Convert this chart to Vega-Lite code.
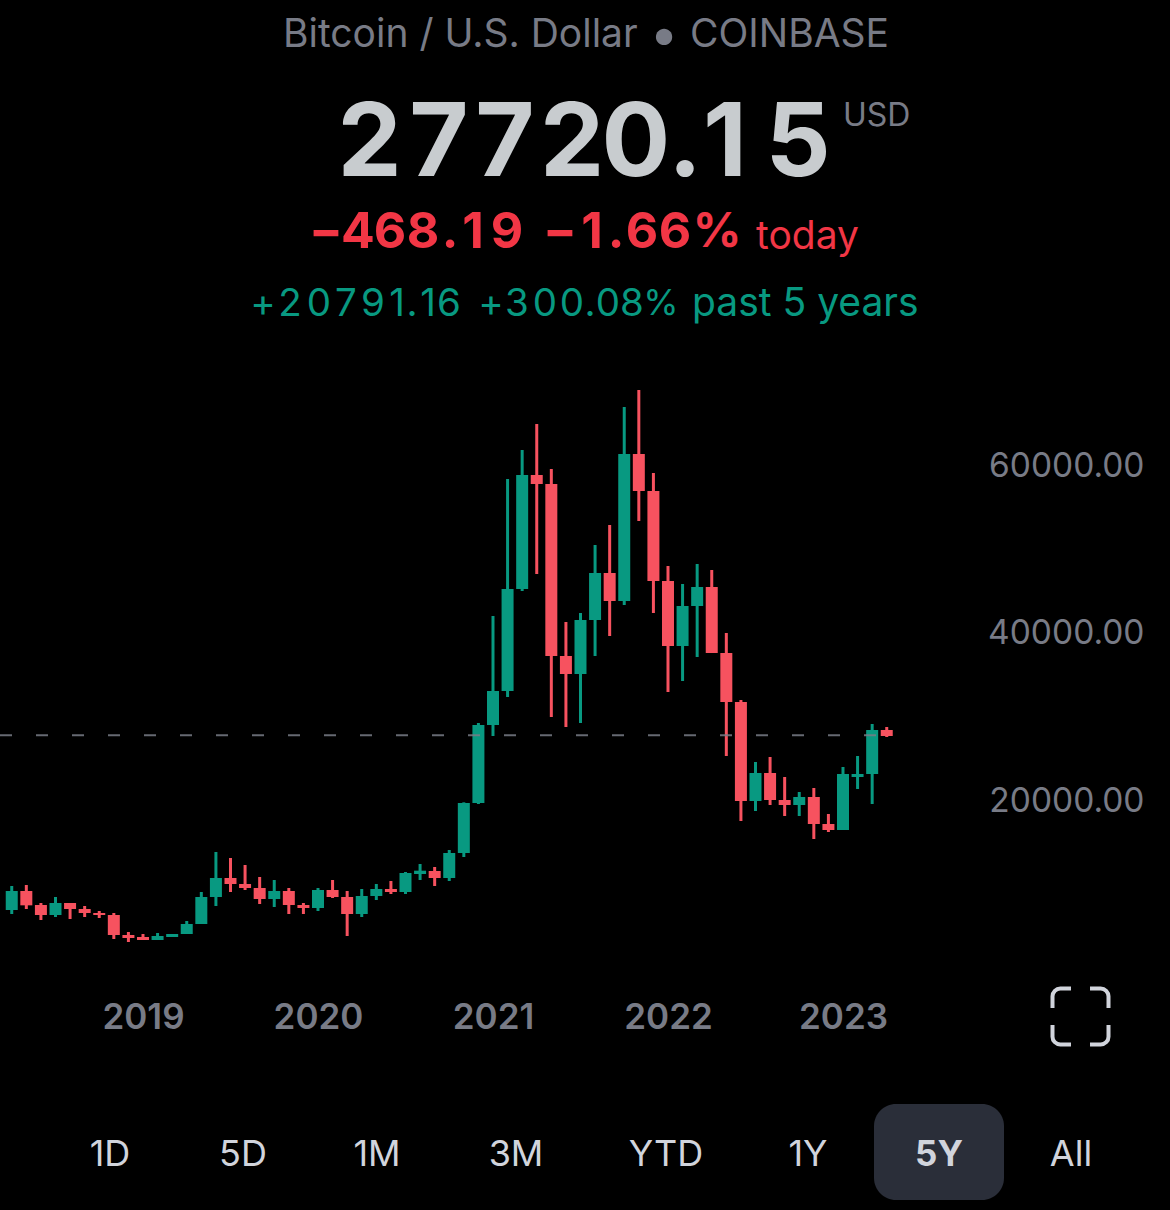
{"$schema":"https://vega.github.io/schema/vega-lite/v6.json","width":1170,"height":1210,"padding":0,"autosize":{"type":"none"},"background":"#000000","config":{"view":{"stroke":null},"text":{"font":"Inter"}},
"datasets":{"candles":[
{"year":2018.25,"open":6746,"close":9015,"high":9612,"low":6268,"dir":"up"},
{"year":2018.3333,"open":9015,"close":7303,"high":9731,"low":6865,"dir":"down"},
{"year":2018.4167,"open":7343,"close":6149,"high":7582,"low":5552,"dir":"down"},
{"year":2018.5,"open":6149,"close":7582,"high":8298,"low":5910,"dir":"up"},
{"year":2018.5833,"open":7582,"close":6865,"high":7582,"low":5671,"dir":"down"},
{"year":2018.6667,"open":6865,"close":6388,"high":7224,"low":5910,"dir":"down"},
{"year":2018.75,"open":6388,"close":6149,"high":6627,"low":5791,"dir":"down"},
{"year":2018.8333,"open":6149,"close":3761,"high":6388,"low":3283,"dir":"down"},
{"year":2018.9167,"open":3761,"close":3403,"high":4119,"low":2925,"dir":"down"},
{"year":2019,"open":3522,"close":3164,"high":3880,"low":3164,"dir":"down"},
{"year":2019.0833,"open":3164,"close":3642,"high":3999,"low":3164,"dir":"up"},
{"year":2019.1667,"open":3522,"close":3880,"high":3880,"low":3522,"dir":"up"},
{"year":2019.25,"open":3880,"close":5074,"high":5433,"low":3880,"dir":"up"},
{"year":2019.3333,"open":5074,"close":8298,"high":8895,"low":5074,"dir":"up"},
{"year":2019.4167,"open":8298,"close":10567,"high":13671,"low":7224,"dir":"up"},
{"year":2019.5,"open":10567,"close":9850,"high":12955,"low":8895,"dir":"down"},
{"year":2019.5833,"open":9850,"close":9373,"high":12119,"low":9134,"dir":"down"},
{"year":2019.6667,"open":9373,"close":8059,"high":10686,"low":7462,"dir":"down"},
{"year":2019.75,"open":8059,"close":9015,"high":10328,"low":7104,"dir":"up"},
{"year":2019.8333,"open":9015,"close":7343,"high":9373,"low":6268,"dir":"down"},
{"year":2019.9167,"open":7343,"close":6985,"high":7582,"low":6268,"dir":"down"},
{"year":2020,"open":6985,"close":9134,"high":9373,"low":6627,"dir":"up"},
{"year":2020.0833,"open":9134,"close":8298,"high":10328,"low":8179,"dir":"down"},
{"year":2020.1667,"open":8298,"close":6268,"high":9015,"low":3642,"dir":"down"},
{"year":2020.25,"open":6268,"close":8418,"high":9253,"low":5910,"dir":"up"},
{"year":2020.3333,"open":8418,"close":9253,"high":9850,"low":7940,"dir":"up"},
{"year":2020.4167,"open":9253,"close":8895,"high":10208,"low":8656,"dir":"down"},
{"year":2020.5,"open":8895,"close":11164,"high":11283,"low":8656,"dir":"up"},
{"year":2020.5833,"open":11044,"close":11442,"high":12238,"low":10328,"dir":"up"},
{"year":2020.6667,"open":11403,"close":10567,"high":11880,"low":9612,"dir":"down"},
{"year":2020.75,"open":10567,"close":13552,"high":13910,"low":10208,"dir":"up"},
{"year":2020.8333,"open":13552,"close":19522,"high":19600,"low":13074,"dir":"up"},
{"year":2020.9167,"open":19522,"close":28835,"high":29074,"low":19400,"dir":"up"},
{"year":2021,"open":28835,"close":32895,"high":41852,"low":27522,"dir":"up"},
{"year":2021.0833,"open":32895,"close":45074,"high":58207,"low":32179,"dir":"up"},
{"year":2021.1667,"open":45074,"close":58685,"high":61670,"low":44835,"dir":"up"},
{"year":2021.25,"open":58685,"close":57611,"high":64773,"low":46865,"dir":"down"},
{"year":2021.3333,"open":57611,"close":37074,"high":59400,"low":29790,"dir":"down"},
{"year":2021.4167,"open":37074,"close":34925,"high":41135,"low":28596,"dir":"down"},
{"year":2021.5,"open":34925,"close":41373,"high":42208,"low":29074,"dir":"up"},
{"year":2021.5833,"open":41373,"close":46985,"high":50327,"low":37074,"dir":"up"},
{"year":2021.6667,"open":46985,"close":43641,"high":52716,"low":39462,"dir":"down"},
{"year":2021.75,"open":43641,"close":61193,"high":66804,"low":43163,"dir":"up"},
{"year":2021.8333,"open":61193,"close":56775,"high":68834,"low":53193,"dir":"down"},
{"year":2021.9167,"open":56775,"close":46029,"high":58924,"low":42208,"dir":"down"},
{"year":2022,"open":46029,"close":38268,"high":47818,"low":32775,"dir":"down"},
{"year":2022.0833,"open":38268,"close":43044,"high":45671,"low":34089,"dir":"up"},
{"year":2022.1667,"open":43044,"close":45313,"high":48059,"low":36954,"dir":"up"},
{"year":2022.25,"open":45313,"close":37432,"high":47341,"low":37432,"dir":"down"},
{"year":2022.3333,"open":37432,"close":31581,"high":39820,"low":25133,"dir":"down"},
{"year":2022.4167,"open":31581,"close":19760,"high":31820,"low":17373,"dir":"down"},
{"year":2022.5,"open":19760,"close":23103,"high":24417,"low":18567,"dir":"up"},
{"year":2022.5833,"open":23103,"close":19880,"high":25014,"low":19283,"dir":"down"},
{"year":2022.6667,"open":19880,"close":19283,"high":22626,"low":17970,"dir":"down"},
{"year":2022.75,"open":19283,"close":20238,"high":20835,"low":17970,"dir":"up"},
{"year":2022.8333,"open":20238,"close":17015,"high":21312,"low":15223,"dir":"down"},
{"year":2022.9167,"open":17015,"close":16298,"high":18208,"low":16059,"dir":"down"},
{"year":2023,"open":16298,"close":22984,"high":23820,"low":16298,"dir":"up"},
{"year":2023.0833,"open":22626,"close":22984,"high":25133,"low":21193,"dir":"up"},
{"year":2023.1667,"open":22984,"close":28238,"high":28954,"low":19402,"dir":"up"},
{"year":2023.25,"open":28238,"close":27522,"high":28596,"low":27402,"dir":"down"}
]},
"layer":[
{"data":{"name":"candles"},"mark":{"type":"rule","strokeWidth":3},"encoding":{
"x":{"field":"year","type":"quantitative","scale":{"domain":[2018.1829,2024.8686],"nice":false,"zero":false,"padding":0},"axis":{"values":[2019,2020,2021,2022,2023],"format":"d","title":null,"grid":false,"domain":false,"ticks":false,"orient":"bottom","offset":-193,"labelPadding":0,"labelBaseline":"middle","labelFont":"Inter","labelFontSize":35,"labelFontWeight":600,"labelColor":"#787b86","labelOverlap":false,"labelFlush":false}},
"y":{"field":"low","type":"quantitative","scale":{"domain":[-29075,115403],"nice":false,"zero":false},"axis":{"values":[20000,40000,60000],"format":".2f","title":null,"grid":false,"domain":false,"ticks":false,"orient":"right","offset":-26,"labelPadding":0,"labelAlign":"right","labelBaseline":"middle","labelOffset":2.5,"labelFont":"Inter","labelFontSize":33.5,"labelColor":"#787b86","labelOverlap":false,"labelFlush":false}},
"y2":{"field":"high"},
"color":{"field":"dir","type":"nominal","scale":{"domain":["up","down"],"range":["#089981","#f7525f"]},"legend":null}}},
{"data":{"name":"candles"},"mark":{"type":"bar","size":12},"encoding":{
"x":{"field":"year","type":"quantitative"},
"y":{"field":"open","type":"quantitative"},
"y2":{"field":"close"},
"color":{"field":"dir","type":"nominal","legend":null}}},
{"data":{"values":[{"price":27600,"start":2018.1829,"end":2023.2}]},"mark":{"type":"rule","color":"#787b86","strokeWidth":2,"strokeDash":[12,24],"opacity":0.85},"encoding":{"x":{"field":"start","type":"quantitative"},"x2":{"field":"end"},"y":{"field":"price","type":"quantitative"}}},
{"data":{"values":[{"t":"Bitcoin / U.S. Dollar"}]},"mark":{"type":"text","x":283,"y":35,"align":"left","baseline":"middle","fontSize":39,"fontWeight":400,"color":"#787b86"},"encoding":{"text":{"field":"t"}}},
{"data":{"values":[{"t":"•"}]},"mark":{"type":"text","x":664,"y":36,"align":"center","baseline":"middle","fontSize":52,"fontWeight":700,"color":"#787b86"},"encoding":{"text":{"field":"t"}}},
{"data":{"values":[{"t":"COINBASE"}]},"mark":{"type":"text","x":690,"y":35,"align":"left","baseline":"middle","fontSize":39,"fontWeight":400,"color":"#787b86"},"encoding":{"text":{"field":"t"}}},
{"data":{"values":[{"t":"2"}]},"mark":{"type":"text","x":369.5,"y":145,"align":"center","baseline":"middle","fontSize":102,"fontWeight":700,"color":"#c8cccf"},"encoding":{"text":{"field":"t"}}},
{"data":{"values":[{"t":"7"}]},"mark":{"type":"text","x":439,"y":145,"align":"center","baseline":"middle","fontSize":102,"fontWeight":700,"color":"#c8cccf"},"encoding":{"text":{"field":"t"}}},
{"data":{"values":[{"t":"7"}]},"mark":{"type":"text","x":505,"y":145,"align":"center","baseline":"middle","fontSize":102,"fontWeight":700,"color":"#c8cccf"},"encoding":{"text":{"field":"t"}}},
{"data":{"values":[{"t":"2"}]},"mark":{"type":"text","x":572,"y":145,"align":"center","baseline":"middle","fontSize":102,"fontWeight":700,"color":"#c8cccf"},"encoding":{"text":{"field":"t"}}},
{"data":{"values":[{"t":"0"}]},"mark":{"type":"text","x":636,"y":145,"align":"center","baseline":"middle","fontSize":102,"fontWeight":700,"color":"#c8cccf"},"encoding":{"text":{"field":"t"}}},
{"data":{"values":[{"t":"."}]},"mark":{"type":"text","x":685,"y":145,"align":"center","baseline":"middle","fontSize":102,"fontWeight":700,"color":"#c8cccf"},"encoding":{"text":{"field":"t"}}},
{"data":{"values":[{"t":"1"}]},"mark":{"type":"text","x":725,"y":145,"align":"center","baseline":"middle","fontSize":102,"fontWeight":700,"color":"#c8cccf"},"encoding":{"text":{"field":"t"}}},
{"data":{"values":[{"t":"5"}]},"mark":{"type":"text","x":798,"y":145,"align":"center","baseline":"middle","fontSize":102,"fontWeight":700,"color":"#c8cccf"},"encoding":{"text":{"field":"t"}}},
{"data":{"values":[{"t":"USD"}]},"mark":{"type":"text","x":843,"y":116,"align":"left","baseline":"middle","fontSize":32,"color":"#787b86"},"encoding":{"text":{"field":"t"}}},
{"data":{"values":[{"t":"−"}]},"mark":{"type":"text","x":326,"y":233,"align":"center","baseline":"middle","fontSize":50,"fontWeight":700,"color":"#f23645"},"encoding":{"text":{"field":"t"}}},
{"data":{"values":[{"t":"4"}]},"mark":{"type":"text","x":358,"y":233,"align":"center","baseline":"middle","fontSize":50,"fontWeight":700,"color":"#f23645"},"encoding":{"text":{"field":"t"}}},
{"data":{"values":[{"t":"6"}]},"mark":{"type":"text","x":390,"y":233,"align":"center","baseline":"middle","fontSize":50,"fontWeight":700,"color":"#f23645"},"encoding":{"text":{"field":"t"}}},
{"data":{"values":[{"t":"8"}]},"mark":{"type":"text","x":423,"y":233,"align":"center","baseline":"middle","fontSize":50,"fontWeight":700,"color":"#f23645"},"encoding":{"text":{"field":"t"}}},
{"data":{"values":[{"t":"."}]},"mark":{"type":"text","x":450,"y":233,"align":"center","baseline":"middle","fontSize":50,"fontWeight":700,"color":"#f23645"},"encoding":{"text":{"field":"t"}}},
{"data":{"values":[{"t":"1"}]},"mark":{"type":"text","x":473,"y":233,"align":"center","baseline":"middle","fontSize":50,"fontWeight":700,"color":"#f23645"},"encoding":{"text":{"field":"t"}}},
{"data":{"values":[{"t":"9"}]},"mark":{"type":"text","x":507,"y":233,"align":"center","baseline":"middle","fontSize":50,"fontWeight":700,"color":"#f23645"},"encoding":{"text":{"field":"t"}}},
{"data":{"values":[{"t":"−"}]},"mark":{"type":"text","x":560,"y":233,"align":"center","baseline":"middle","fontSize":50,"fontWeight":700,"color":"#f23645"},"encoding":{"text":{"field":"t"}}},
{"data":{"values":[{"t":"1"}]},"mark":{"type":"text","x":592,"y":233,"align":"center","baseline":"middle","fontSize":50,"fontWeight":700,"color":"#f23645"},"encoding":{"text":{"field":"t"}}},
{"data":{"values":[{"t":"."}]},"mark":{"type":"text","x":616,"y":233,"align":"center","baseline":"middle","fontSize":50,"fontWeight":700,"color":"#f23645"},"encoding":{"text":{"field":"t"}}},
{"data":{"values":[{"t":"6"}]},"mark":{"type":"text","x":642,"y":233,"align":"center","baseline":"middle","fontSize":50,"fontWeight":700,"color":"#f23645"},"encoding":{"text":{"field":"t"}}},
{"data":{"values":[{"t":"6"}]},"mark":{"type":"text","x":675,"y":233,"align":"center","baseline":"middle","fontSize":50,"fontWeight":700,"color":"#f23645"},"encoding":{"text":{"field":"t"}}},
{"data":{"values":[{"t":"%"}]},"mark":{"type":"text","x":717,"y":233,"align":"center","baseline":"middle","fontSize":48,"fontWeight":700,"color":"#f23645"},"encoding":{"text":{"field":"t"}}},
{"data":{"values":[{"t":"today"}]},"mark":{"type":"text","x":756,"y":237,"align":"left","baseline":"middle","fontSize":39,"fontWeight":400,"color":"#f23645"},"encoding":{"text":{"field":"t"}}},
{"data":{"values":[{"t":"+"}]},"mark":{"type":"text","x":263,"y":304,"align":"center","baseline":"middle","fontSize":38.5,"color":"#089981"},"encoding":{"text":{"field":"t"}}},
{"data":{"values":[{"t":"2"}]},"mark":{"type":"text","x":290,"y":304,"align":"center","baseline":"middle","fontSize":38.5,"color":"#089981"},"encoding":{"text":{"field":"t"}}},
{"data":{"values":[{"t":"0"}]},"mark":{"type":"text","x":319,"y":304,"align":"center","baseline":"middle","fontSize":38.5,"color":"#089981"},"encoding":{"text":{"field":"t"}}},
{"data":{"values":[{"t":"7"}]},"mark":{"type":"text","x":346,"y":304,"align":"center","baseline":"middle","fontSize":38.5,"color":"#089981"},"encoding":{"text":{"field":"t"}}},
{"data":{"values":[{"t":"9"}]},"mark":{"type":"text","x":373,"y":304,"align":"center","baseline":"middle","fontSize":38.5,"color":"#089981"},"encoding":{"text":{"field":"t"}}},
{"data":{"values":[{"t":"1"}]},"mark":{"type":"text","x":397,"y":304,"align":"center","baseline":"middle","fontSize":38.5,"color":"#089981"},"encoding":{"text":{"field":"t"}}},
{"data":{"values":[{"t":"."}]},"mark":{"type":"text","x":412,"y":304,"align":"center","baseline":"middle","fontSize":38.5,"color":"#089981"},"encoding":{"text":{"field":"t"}}},
{"data":{"values":[{"t":"1"}]},"mark":{"type":"text","x":428,"y":304,"align":"center","baseline":"middle","fontSize":38.5,"color":"#089981"},"encoding":{"text":{"field":"t"}}},
{"data":{"values":[{"t":"6"}]},"mark":{"type":"text","x":449,"y":304,"align":"center","baseline":"middle","fontSize":38.5,"color":"#089981"},"encoding":{"text":{"field":"t"}}},
{"data":{"values":[{"t":"+"}]},"mark":{"type":"text","x":491,"y":304,"align":"center","baseline":"middle","fontSize":38.5,"color":"#089981"},"encoding":{"text":{"field":"t"}}},
{"data":{"values":[{"t":"3"}]},"mark":{"type":"text","x":517,"y":304,"align":"center","baseline":"middle","fontSize":38.5,"color":"#089981"},"encoding":{"text":{"field":"t"}}},
{"data":{"values":[{"t":"0"}]},"mark":{"type":"text","x":545,"y":304,"align":"center","baseline":"middle","fontSize":38.5,"color":"#089981"},"encoding":{"text":{"field":"t"}}},
{"data":{"values":[{"t":"0"}]},"mark":{"type":"text","x":572,"y":304,"align":"center","baseline":"middle","fontSize":38.5,"color":"#089981"},"encoding":{"text":{"field":"t"}}},
{"data":{"values":[{"t":"."}]},"mark":{"type":"text","x":590,"y":304,"align":"center","baseline":"middle","fontSize":38.5,"color":"#089981"},"encoding":{"text":{"field":"t"}}},
{"data":{"values":[{"t":"0"}]},"mark":{"type":"text","x":608,"y":304,"align":"center","baseline":"middle","fontSize":38.5,"color":"#089981"},"encoding":{"text":{"field":"t"}}},
{"data":{"values":[{"t":"8"}]},"mark":{"type":"text","x":632,"y":304,"align":"center","baseline":"middle","fontSize":38.5,"color":"#089981"},"encoding":{"text":{"field":"t"}}},
{"data":{"values":[{"t":"%"}]},"mark":{"type":"text","x":661,"y":304,"align":"center","baseline":"middle","fontSize":36,"color":"#089981"},"encoding":{"text":{"field":"t"}}},
{"data":{"values":[{"t":"past 5 years"}]},"mark":{"type":"text","x":692,"y":304,"align":"left","baseline":"middle","fontSize":39,"fontWeight":400,"color":"#089981"},"encoding":{"text":{"field":"t"}}},
{"data":{"values":[{"b":"5Y"}]},"mark":{"type":"rect","x":874,"x2":1004,"y":1104,"y2":1200,"cornerRadius":22,"color":"#2a2e39"},"encoding":{}},
{"data":{"values":[{"b":"icon"}]},"mark":{"type":"point","x":1080.5,"y":1016.5,"size":3136,"filled":false,"opacity":1,"stroke":"#d1d4dc","strokeWidth":4,"shape":"M-1 -0.3 V-0.72 A0.28 0.28 0 0 1 -0.72 -1 H-0.34 M0.34 -1 H0.72 A0.28 0.28 0 0 1 1 -0.72 V-0.3 M1 0.3 V0.72 A0.28 0.28 0 0 1 0.72 1 H0.34 M-0.34 1 H-0.72 A0.28 0.28 0 0 1 -1 0.72 V0.3"},"encoding":{}},
{"data":{"values":[{"t":"1D"}]},"mark":{"type":"text","x":110,"y":1155,"align":"center","baseline":"middle","fontSize":36,"color":"#d1d4dc"},"encoding":{"text":{"field":"t"}}},
{"data":{"values":[{"t":"5D"}]},"mark":{"type":"text","x":243,"y":1155,"align":"center","baseline":"middle","fontSize":36,"color":"#d1d4dc"},"encoding":{"text":{"field":"t"}}},
{"data":{"values":[{"t":"1M"}]},"mark":{"type":"text","x":377,"y":1155,"align":"center","baseline":"middle","fontSize":36,"color":"#d1d4dc"},"encoding":{"text":{"field":"t"}}},
{"data":{"values":[{"t":"3M"}]},"mark":{"type":"text","x":516,"y":1155,"align":"center","baseline":"middle","fontSize":36,"color":"#d1d4dc"},"encoding":{"text":{"field":"t"}}},
{"data":{"values":[{"t":"YTD"}]},"mark":{"type":"text","x":666,"y":1155,"align":"center","baseline":"middle","fontSize":36,"color":"#d1d4dc"},"encoding":{"text":{"field":"t"}}},
{"data":{"values":[{"t":"1Y"}]},"mark":{"type":"text","x":808,"y":1155,"align":"center","baseline":"middle","fontSize":36,"color":"#d1d4dc"},"encoding":{"text":{"field":"t"}}},
{"data":{"values":[{"t":"5Y"}]},"mark":{"type":"text","x":939,"y":1155,"align":"center","baseline":"middle","fontSize":35,"fontWeight":700,"color":"#d1d4dc"},"encoding":{"text":{"field":"t"}}},
{"data":{"values":[{"t":"All"}]},"mark":{"type":"text","x":1071,"y":1155,"align":"center","baseline":"middle","fontSize":36,"color":"#d1d4dc"},"encoding":{"text":{"field":"t"}}}
]}
